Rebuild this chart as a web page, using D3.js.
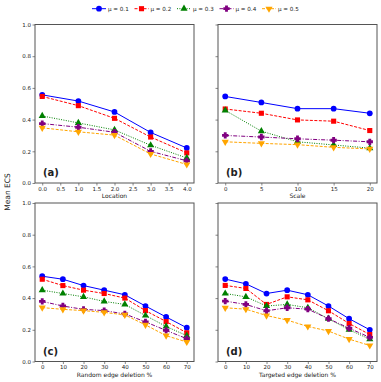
<!DOCTYPE html>
<meta charset="utf-8">
<style>
  body { margin: 0; background: #fff; }
  text { font-family: "DejaVu Sans", sans-serif; fill: #222; }
</style>
<script src="https://d3js.org/d3.v7.min.js"></script>
<svg width="381" height="382"></svg>
<script>
// series names and styles order
const mus = ['μ = 0.1', 'μ = 0.2', 'μ = 0.3', 'μ = 0.4', 'μ = 0.5'];

// (a) location
const locX = [0, 1, 2, 3, 4];
const locY = [
  [0.556, 0.517, 0.448, 0.319, 0.221],
  [0.546, 0.488, 0.408, 0.290, 0.190],
  [0.423, 0.379, 0.335, 0.238, 0.158],
  [0.375, 0.352, 0.320, 0.200, 0.140],
  [0.348, 0.323, 0.302, 0.183, 0.117]
];
const locTicks = [0, 0.5, 1, 1.5, 2, 2.5, 3, 3.5, 4];

// (b) scale
const scaleX = [0, 5, 10, 15, 20];
const scaleY = [
  [0.546, 0.508, 0.469, 0.469, 0.440],
  [0.467, 0.440, 0.398, 0.390, 0.331],
  [0.458, 0.327, 0.260, 0.240, 0.220],
  [0.300, 0.290, 0.279, 0.270, 0.260],
  [0.260, 0.250, 0.242, 0.225, 0.215]
];
const scaleTicks = [0, 5, 10, 15, 20];

// (c) random edge deletion
const delX = [0, 10, 20, 30, 40, 50, 60, 70];
const randY = [
  [0.538, 0.519, 0.479, 0.450, 0.421, 0.350, 0.281, 0.213],
  [0.519, 0.479, 0.450, 0.429, 0.400, 0.321, 0.252, 0.181],
  [0.450, 0.429, 0.408, 0.379, 0.360, 0.290, 0.221, 0.163],
  [0.379, 0.350, 0.329, 0.321, 0.300, 0.250, 0.196, 0.144],
  [0.340, 0.329, 0.321, 0.310, 0.294, 0.231, 0.163, 0.123]
];

// (d) targeted edge deletion
const targY = [
  [0.520, 0.490, 0.429, 0.450, 0.421, 0.350, 0.270, 0.200],
  [0.480, 0.461, 0.360, 0.408, 0.389, 0.320, 0.240, 0.170],
  [0.429, 0.408, 0.350, 0.360, 0.339, 0.270, 0.200, 0.141],
  [0.381, 0.360, 0.320, 0.339, 0.330, 0.270, 0.210, 0.152],
  [0.339, 0.330, 0.290, 0.261, 0.221, 0.192, 0.141, 0.101]
];
const delTicks = [0, 10, 20, 30, 40, 50, 60, 70];

const yTicks = [0, 0.2, 0.4, 0.6, 0.8, 1.0];

const colors = ['blue', 'red', 'green', 'purple', 'orange'];
const dashes = [null, '3,1.5', '1,1.4', '4,1.5,1,1.5', '3,1.5'];

// thick filled plus, like matplotlib 'P'
const plusFilled = {
  draw(ctx, size) {
    const s = Math.sqrt(size) / 2, a = s * 0.45;
    ctx.moveTo(-a, -s); ctx.lineTo(a, -s); ctx.lineTo(a, -a); ctx.lineTo(s, -a);
    ctx.lineTo(s, a); ctx.lineTo(a, a); ctx.lineTo(a, s); ctx.lineTo(-a, s);
    ctx.lineTo(-a, a); ctx.lineTo(-s, a); ctx.lineTo(-s, -a); ctx.lineTo(-a, -a);
    ctx.closePath();
  }
};
const symbols = [
  d3.symbol().type(d3.symbolCircle).size(26),
  d3.symbol().type(d3.symbolSquare).size(26),
  d3.symbol().type(d3.symbolTriangle).size(22),
  d3.symbol().type(plusFilled).size(40),
  d3.symbol().type(d3.symbolTriangle).size(22)
];
const rot = [0, 0, 0, 0, 180];

const svg = d3.select('svg');
const axisColor = '#555';

const panels = [
  { x: locX, ys: locY, ticks: locTicks, dom: [-0.2, 4.2], fmt: d3.format('.1f'), label: 'Location', tag: '(a)', left: 35, top: 24.5, ylab: true },
  { x: scaleX, ys: scaleY, ticks: scaleTicks, dom: [-1, 21], fmt: d3.format('d'), label: 'Scale', tag: '(b)', left: 218, top: 24.5, ylab: false },
  { x: delX, ys: randY, ticks: delTicks, dom: [-3.5, 73.5], fmt: d3.format('d'), label: 'Random edge deletion %', tag: '(c)', left: 35, top: 203, ylab: true },
  { x: delX, ys: targY, ticks: delTicks, dom: [-3.5, 73.5], fmt: d3.format('d'), label: 'Targeted edge deletion %', tag: '(d)', left: 218, top: 203, ylab: false }
];
const W = 159, H = 158.5;

panels.forEach(p => {
  const g = svg.append('g').attr('transform', `translate(${p.left},${p.top})`);
  const x = d3.scaleLinear().domain(p.dom).range([0, W]);
  const y = d3.scaleLinear().domain([0, 1]).range([H, 0]);

  const xa = g.append('g').attr('transform', `translate(0,${H})`)
    .call(d3.axisBottom(x).tickValues(p.ticks).tickFormat(p.fmt).tickSize(2.5).tickPadding(1.5));
  const ya = g.append('g')
    .call(d3.axisLeft(y).tickValues(yTicks).tickFormat(p.ylab ? d3.format('.1f') : '').tickSize(2.5).tickPadding(1.5));
  [xa, ya].forEach(a => {
    a.select('.domain').remove();
    a.selectAll('line').attr('stroke', axisColor).attr('stroke-width', 0.7);
    a.selectAll('text').style('font-size', '5.5px').style('font-family', '"DejaVu Sans", sans-serif').attr('fill', '#222');
  });

  g.append('rect').attr('width', W).attr('height', H)
    .attr('fill', 'none').attr('stroke', axisColor).attr('stroke-width', 1);

  const line = d3.line().x((d, i) => x(p.x[i])).y(d => y(d));
  p.ys.forEach((vals, k) => {
    g.append('path').datum(vals).attr('d', line)
      .attr('fill', 'none').attr('stroke', colors[k]).attr('stroke-width', 1)
      .attr('stroke-dasharray', dashes[k]);
    g.selectAll(null).data(vals).enter().append('path')
      .attr('d', symbols[k])
      .attr('transform', (d, i) => `translate(${x(p.x[i])},${y(d)}) rotate(${rot[k]})`)
      .attr('fill', colors[k]);
  });

  g.append('text').attr('x', W / 2).attr('y', H + 15)
    .attr('text-anchor', 'middle').style('font-size', '6px').text(p.label);
  g.append('text').attr('x', 8).attr('y', H - 7)
    .style('font-size', '10px').style('font-weight', 'bold').attr('fill', '#111').text(p.tag);
});

svg.append('text')
  .attr('transform', 'translate(10,192) rotate(-90)')
  .attr('text-anchor', 'middle').style('font-size', '7.5px').text('Mean ECS');

// legend, fixed pitch per entry
const leg = svg.append('g').attr('transform', 'translate(92,8.7)');
mus.forEach((m, k) => {
  const it = leg.append('g').attr('transform', `translate(${k * 42.5},0)`);
  it.append('line').attr('x1', 0).attr('x2', 14).attr('stroke', colors[k])
    .attr('stroke-width', 1).attr('stroke-dasharray', dashes[k]);
  it.append('path').attr('d', symbols[k]).attr('fill', colors[k])
    .attr('transform', `translate(7,0) rotate(${rot[k]})`);
  it.append('text').attr('x', 16).attr('y', 2).style('font-size', '5.6px').text(m);
});
</script>
